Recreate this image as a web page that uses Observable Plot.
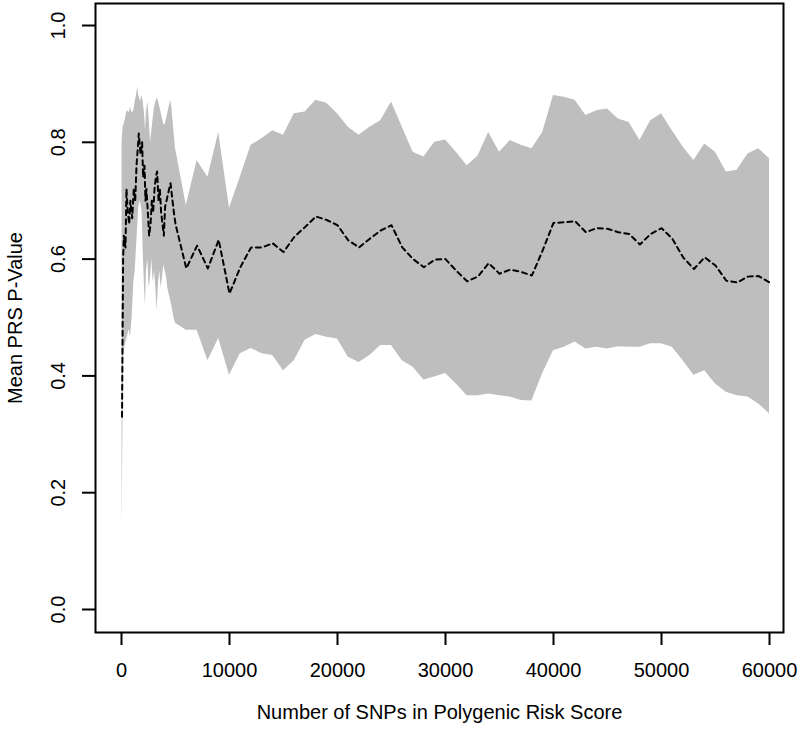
<!DOCTYPE html>
<html>
<head>
<meta charset="utf-8">
<script src="https://cdn.jsdelivr.net/npm/d3@7"></script>
<script src="https://cdn.jsdelivr.net/npm/@observablehq/plot@0.6"></script>
<style>
  html, body { margin: 0; padding: 0; background: #fff; }
  #chart { width: 800px; height: 732px; }
</style>
</head>
<body>
<div id="chart"></div>
<script>
// Number of SNPs in the polygenic risk score
const snps = [
  50, 150, 220, 370, 460, 590, 710, 830, 990, 1140, 1270, 1390, 1510, 1600, 1760, 1910,
  2000, 2130, 2220, 2310, 2440, 2560, 2690, 2810, 2930, 3060, 3180, 3300, 3430, 3550,
  3670, 3800, 3920, 4040, 4170, 4290, 4410, 4540, 4660, 4850,
  5000, 6000, 7000, 8000, 9000, 10000, 11000, 12000, 13000, 14000, 15000, 16000, 17000,
  18000, 19000, 20000, 21000, 22000, 23000, 24000, 25000, 26000, 27000, 28000, 29000,
  30000, 31000, 32000, 33000, 34000, 35000, 36000, 37000, 38000, 39000, 40000, 41000,
  42000, 43000, 44000, 45000, 46000, 47000, 48000, 49000, 50000, 51000, 52000, 53000,
  54000, 55000, 56000, 57000, 58000, 59000, 60000
];
// Mean PRS p-value (dashed line)
const meanP = [
  0.33, 0.60, 0.64, 0.62, 0.72, 0.68, 0.66, 0.70, 0.67, 0.72, 0.70, 0.76, 0.79, 0.815, 0.78, 0.80,
  0.74, 0.76, 0.70, 0.72, 0.68, 0.64, 0.66, 0.70, 0.68, 0.72, 0.74, 0.75, 0.70, 0.72,
  0.68, 0.66, 0.64, 0.69, 0.70, 0.71, 0.72, 0.73, 0.71, 0.68,
  0.66, 0.584, 0.623, 0.584, 0.633, 0.541, 0.586, 0.620, 0.620, 0.627, 0.612, 0.638, 0.655,
  0.673, 0.667, 0.658, 0.632, 0.620, 0.635, 0.649, 0.658, 0.620, 0.600, 0.586, 0.599,
  0.600, 0.580, 0.562, 0.570, 0.593, 0.575, 0.582, 0.578, 0.572, 0.615, 0.662, 0.663,
  0.665, 0.646, 0.653, 0.652, 0.646, 0.643, 0.625, 0.643, 0.653, 0.635, 0.603, 0.583,
  0.603, 0.589, 0.563, 0.560, 0.570, 0.571, 0.560
];
// Lower edge of the grey band
const lowerP = [
  0.135, 0.35, 0.44, 0.455, 0.46, 0.47, 0.48, 0.466, 0.50, 0.56, 0.58, 0.62, 0.66, 0.69, 0.70, 0.68,
  0.62, 0.55, 0.52, 0.58, 0.60, 0.55, 0.57, 0.60, 0.56, 0.58, 0.55, 0.512, 0.56, 0.58,
  0.55, 0.57, 0.59, 0.58, 0.57, 0.55, 0.54, 0.53, 0.52, 0.50,
  0.49, 0.478, 0.478, 0.426, 0.464, 0.401, 0.438, 0.447, 0.438, 0.435, 0.409, 0.426, 0.461,
  0.471, 0.466, 0.463, 0.432, 0.423, 0.435, 0.452, 0.452, 0.426, 0.415, 0.393, 0.398,
  0.404, 0.386, 0.366, 0.366, 0.369, 0.366, 0.364, 0.358, 0.357, 0.404, 0.443, 0.449,
  0.458, 0.446, 0.449, 0.446, 0.450, 0.449, 0.449, 0.455, 0.455, 0.449, 0.426, 0.401,
  0.409, 0.386, 0.372, 0.366, 0.364, 0.352, 0.335
];
// Upper edge of the grey band
const upperP = [
  0.80, 0.826, 0.83, 0.84, 0.85, 0.854, 0.85, 0.86, 0.85, 0.854, 0.87, 0.88, 0.895, 0.88, 0.87, 0.88,
  0.87, 0.85, 0.82, 0.85, 0.87, 0.84, 0.80, 0.82, 0.84, 0.86, 0.87, 0.875, 0.87, 0.86,
  0.85, 0.84, 0.83, 0.83, 0.84, 0.85, 0.86, 0.872, 0.86, 0.82,
  0.79, 0.692, 0.769, 0.740, 0.817, 0.687, 0.740, 0.795, 0.806, 0.820, 0.812, 0.849, 0.852,
  0.872, 0.867, 0.849, 0.826, 0.812, 0.826, 0.837, 0.869, 0.826, 0.783, 0.775, 0.800,
  0.804, 0.783, 0.760, 0.776, 0.817, 0.783, 0.803, 0.795, 0.789, 0.817, 0.880, 0.877,
  0.872, 0.846, 0.854, 0.857, 0.840, 0.834, 0.803, 0.837, 0.849, 0.820, 0.792, 0.769,
  0.797, 0.783, 0.749, 0.752, 0.780, 0.789, 0.772
];
const xTicks = [0, 10000, 20000, 30000, 40000, 50000, 60000];
const yTicks = [0, 0.2, 0.4, 0.6, 0.8, 1.0];
const xTitle = "Number of SNPs in Polygenic Risk Score";
const yTitle = "Mean PRS P-Value";

const rows = snps.map((s, i) => ({s, mean: meanP[i], lo: lowerP[i], hi: upperP[i]}));

const chart = Plot.plot({
  width: 800,
  height: 732,
  marginLeft: 95,
  marginRight: 17,
  marginTop: 3,
  marginBottom: 100,
  style: {fontFamily: "'Liberation Sans', Arial, Helvetica, sans-serif", fontSize: "20px", background: "#fff", color: "#000"},
  x: {domain: [-2407, 61296]},
  y: {domain: [-0.0394, 1.0377]},
  marks: [
    Plot.areaY(rows, {x: "s", y1: "lo", y2: "hi", fill: "#bebebe", fillOpacity: 1}),
    Plot.line(rows, {x: "s", y: "mean", stroke: "#000", strokeWidth: 2, strokeDasharray: "5,4"}),
    Plot.frame({stroke: "#000", strokeWidth: 2}),
    Plot.axisX({ticks: xTicks, tickSize: 13, tickPadding: 17, tickFormat: d => String(d), label: null, strokeWidth: 2, fontSize: 20}),
    Plot.axisY({ticks: yTicks, tickSize: 13, tickFormat: () => "", label: null, strokeWidth: 2}),
    Plot.text(yTicks, {y: d => d, text: d => d.toFixed(1), frameAnchor: "left", textAnchor: "middle", dx: -37, rotate: -90, fontSize: 20, fill: "#000"}),
    Plot.text([xTitle], {text: d => d, frameAnchor: "bottom", textAnchor: "middle", dy: 86, fontSize: 20, fill: "#000"}),
    Plot.text([yTitle], {text: d => d, frameAnchor: "left", textAnchor: "middle", dx: -80, rotate: -90, fontSize: 20, fill: "#000"})
  ]
});
document.getElementById("chart").appendChild(chart);
</script>
</body>
</html>
